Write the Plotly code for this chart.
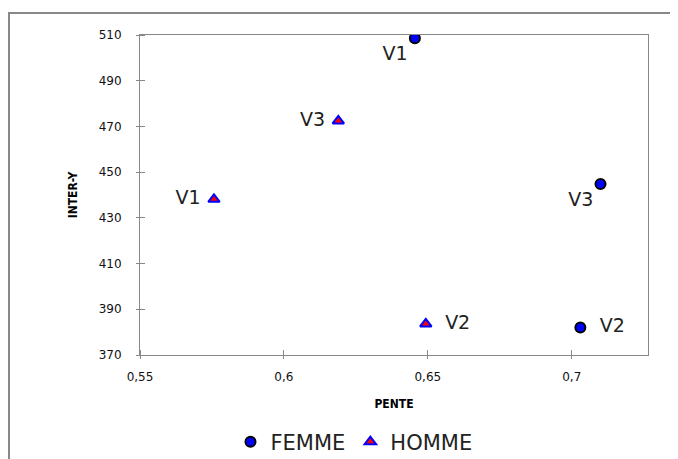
import plotly.graph_objects as go

femme_x = [0.6455, 0.703, 0.710]
femme_y = [508.6, 382.0, 444.8]
femme_lbl = ["V1", "  V2", "V3"]
femme_pos = ["bottom left", "middle right", "bottom left"]

homme_x = [0.5757, 0.6493, 0.6189]
homme_y = [438.1, 383.6, 472.4]
homme_lbl = ["V1 ", "  V2", "V3 "]
homme_pos = ["middle left", "middle right", "middle left"]

x_ticks = [0.55, 0.6, 0.65, 0.7]
x_tick_text = ["0,55", "0,6", "0,65", "0,7"]
y_ticks = [370, 390, 410, 430, 450, 470, 490, 510]

OFF = 8  # page body margin
W, H = 678, 459
L, T = 140 - OFF, 35 - OFF
pw, ph = 508, 320
R, B = W - L - pw, H - T - ph

fig = go.Figure()
fig.add_trace(go.Scatter(
    x=femme_x, y=femme_y, mode="markers+text", name="FEMME",
    text=femme_lbl, textposition=femme_pos,
    textfont=dict(family="DejaVu Sans", size=19, color="#222222"),
    marker=dict(symbol="circle", size=10, color="#0000FF",
                line=dict(color="#000000", width=2)),
))
fig.add_trace(go.Scatter(
    x=homme_x, y=homme_y, mode="markers+text", name="HOMME",
    text=homme_lbl, textposition=homme_pos,
    textfont=dict(family="DejaVu Sans", size=19, color="#222222"),
    marker=dict(symbol="triangle-up", size=10, color="#FF0000",
                line=dict(color="#0000FF", width=2)),
))

tickfont = dict(family="DejaVu Sans", size=12, color="#111111")
axis_common = dict(showgrid=False, zeroline=False, showline=True,
                   linecolor="#888888", linewidth=1, mirror=True,
                   ticks="outside", ticklen=3, tickcolor="#888888",
                   tickfont=tickfont)

fig.update_layout(
    width=W, height=H,
    margin=dict(l=L, r=R, t=T, b=B, autoexpand=False),
    paper_bgcolor="white", plot_bgcolor="white",
    showlegend=True,
    legend=dict(orientation="h", x=(354 - 140) / pw, xanchor="center",
                y=(355 - 442) / ph, yanchor="middle",
                font=dict(family="DejaVu Sans", size=21, color="#222222"),
                traceorder="normal"),
    xaxis=dict(range=[0.55, 0.7265], tickvals=x_ticks, ticktext=x_tick_text,
               ticklabelstandoff=8,
               minor=dict(tickvals=x_ticks, ticks="inside", ticklen=5,
                          tickcolor="#888888", showgrid=False),
               title=dict(text="<b>PENTE</b>", standoff=16,
                          font=dict(family="DejaVu Sans Condensed", size=12, color="#000000")),
               **axis_common),
    yaxis=dict(range=[370, 510], tickvals=y_ticks,
               ticklabelstandoff=12,
               minor=dict(tickvals=y_ticks, ticks="inside", ticklen=5,
                          tickcolor="#888888", showgrid=False),
               title=dict(text="<b>INTER-Y</b>", standoff=18,
                          font=dict(family="DejaVu Sans Condensed", size=12, color="#000000")),
               **axis_common),
)

# outer frame
fig.add_shape(type="rect", xref="paper", yref="paper",
              x0=(9 - 140) / pw, x1=(W + 30 - 140) / pw,
              y0=(355 - (H + 30)) / ph, y1=(355 - 13) / ph,
              line=dict(color="#888888", width=2), fillcolor="rgba(0,0,0,0)",
              layer="below")

fig.write_html("out.html")
